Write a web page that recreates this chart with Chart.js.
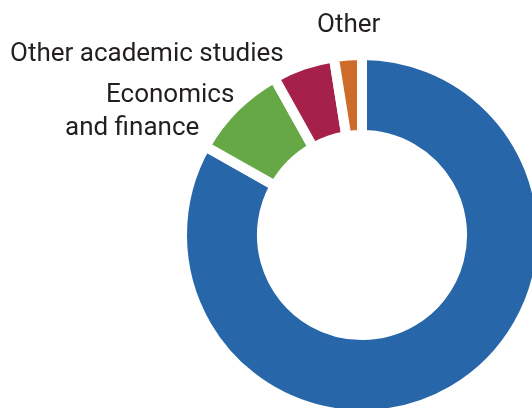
<!DOCTYPE html>
<html>
<head>
<meta charset="utf-8">
<script src="https://cdn.jsdelivr.net/npm/chart.js@4/dist/chart.umd.min.js"></script>
<style>
  html, body { margin: 0; padding: 0; background: #fff; }
  canvas { display: block; }
</style>
</head>
<body>
<canvas id="studiesChart" width="532" height="408"></canvas>
<script>
const categories = ['', 'Economics and finance', 'Other academic studies', 'Other']
const shares = [83.2, 8.7, 5.6, 2.5]
const colours = ['#2766a8', '#66a845', '#a5214a', '#cd6b2a']

// text placed next to the small slices (blue one has no caption here)
const captionPlugin = {
    id: 'captions',
    afterDatasetsDraw(chart) {
        const ctx = chart.ctx
        const spots = [
            null,
            [[106, 102, 'Economics'], [65, 135, 'and finance']],
            [[10, 61, categories[2]]],
            [[317, 32, categories[3]]]
        ]
        ctx.save()
        ctx.font = '26px Roboto'
        ctx.fillStyle = '#231f20'
        ctx.textAlign = 'left'
        ctx.textBaseline = 'alphabetic'
        spots.forEach((lines, i) => {
            if (!lines || !categories[i]) return
            lines.forEach(([x, y, txt]) => ctx.fillText(txt, x, y))
        })
        ctx.restore()
    }
}

const ctx = document.getElementById('studiesChart').getContext('2d')
const studiesChart = new Chart(ctx, {
    type: 'doughnut',
    data: {
        labels: categories,
        datasets: [{
            data: shares,
            backgroundColor: colours,
            borderColor: '#ffffff',
            borderWidth: 10,
            borderJoinStyle: 'miter',
            radius: 180,
            cutout: '55.6%',
            clip: false
        }]
    },
    options: {
        responsive: false,
        animation: false,
        rotation: 0,
        layout: {padding: {left: 192, top: 62, right: 0, bottom: 0}},
        plugins: {
            legend: {display: false},
            tooltip: {enabled: false}
        }
    },
    plugins: [captionPlugin]
})
</script>
</body>
</html>
